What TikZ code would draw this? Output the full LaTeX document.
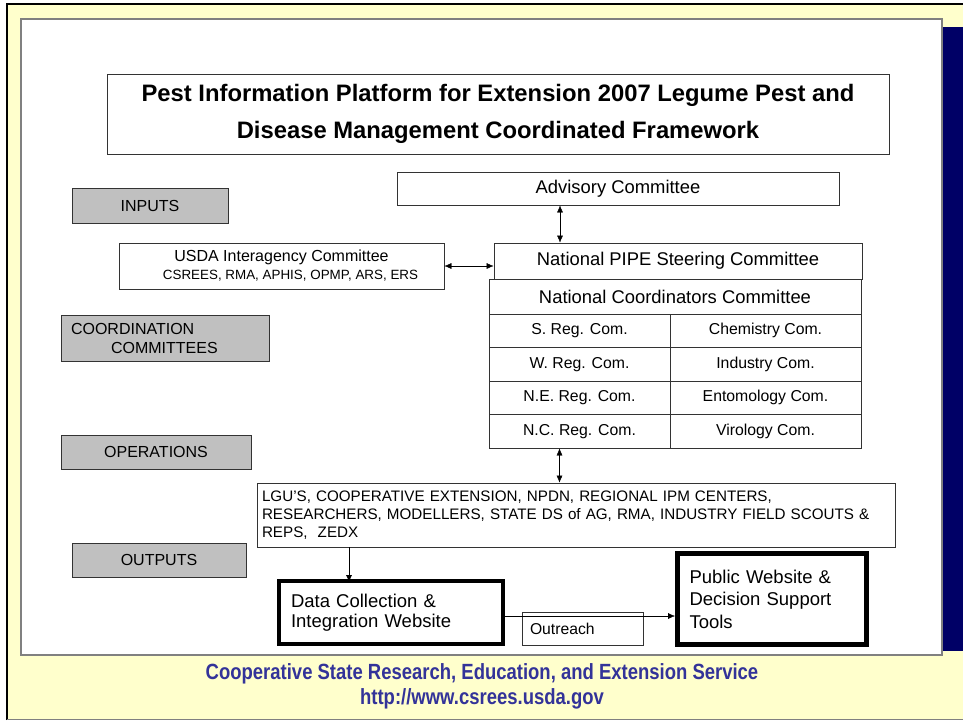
\documentclass[tikz,border=0pt]{standalone}
\usepackage{fontspec}
\setmainfont{Liberation Sans}
\newfontfamily\narrowfont[FakeStretch=0.84]{Liberation Sans}
\usetikzlibrary{calc}
\usetikzlibrary{shapes,arrows,arrows.meta,positioning}
\definecolor{slideyellow}{HTML}{FFFFCC}
\definecolor{slidenavy}{HTML}{000066}
\definecolor{footblue}{HTML}{333399}
\definecolor{tabgray}{HTML}{C0C0C0}
\newcommand{\fs}[1]{\fontsize{#1}{1.2\dimexpr#1pt\relax}\selectfont}
\tikzset{
  plainbox/.style={draw=black!80,line width=0.9pt,fill=white,inner sep=0pt,align=center},
  tagbox/.style={draw=black!80,line width=0.9pt,fill=tabgray,inner sep=0pt,align=center,font=\fs{16}},
  cellbox/.style={draw=black!80,line width=0.9pt,fill=white,inner sep=0pt,font=\fs{15.8},minimum height=33.5pt},
  heavybox/.style={draw=black,line width=4pt,fill=white,inner xsep=12pt,inner ysep=0pt,align=left},
}

\begin{document}
\begin{tikzpicture}[x=1pt,y=-1pt,>={Latex[length=7pt,width=6pt]}]
    \useasboundingbox (0,0) rectangle (963,721);
    % slide background
    \fill[slideyellow] (7,4) rectangle (963,720);
    \draw[line width=2.5pt] (7,720) -- (7,4) -- (963,4);
    \draw[gray,line width=1pt] (7,719.5) -- (963,719.5);
    \fill[slidenavy] (942,27) rectangle (963,651);
    \draw[fill=white,draw=gray,line width=1.5pt] (21,19) rectangle (942,655);

    % title
    \node[plainbox,minimum width=782pt,minimum height=80pt,
          font=\bfseries\fontsize{23.8}{37}\selectfont] (title) at (498,114)
          {Pest Information Platform for Extension 2007 Legume Pest and\\
           Disease Management Coordinated Framework};

    % left hand labels
    \node[tagbox,minimum width=156pt,minimum height=35pt] (inputs) at (150,205.5) {INPUTS};
    \node[tagbox,minimum width=208pt,minimum height=46pt,text width=188pt,align=left,
          font=\fontsize{16}{19}\selectfont] (coordcom) at (165,338)
          {COORDINATION\\\hspace*{40pt}COMMITTEES};
    \node[tagbox,minimum width=190pt,minimum height=34pt] (operations) at (156,452) {OPERATIONS};
    \node[tagbox,minimum width=174pt,minimum height=34pt] (outputs) at (159,560) {OUTPUTS};

    % committees
    \node[plainbox,minimum width=442pt,minimum height=33pt,font=\fs{18.4}] (advisory) at (618,188.5) {Advisory Committee};
    \node[plainbox,minimum width=325pt,minimum height=46pt,font=\fontsize{16}{18}\selectfont] (usda) at (281.5,266)
          {USDA Interagency Committee\\\hspace*{18pt}{\fontsize{13.4}{14}\selectfont CSREES, RMA, APHIS, OPMP, ARS, ERS}};
    \node[plainbox,minimum width=372pt,minimum height=35pt,font=\fs{18.4}] (ncc) at (675,296.5) {National Coordinators Committee};
    \node[plainbox,minimum width=368pt,minimum height=36pt,font=\fs{18.4}] (pipe) at (678,261) {National PIPE Steering Committee};

    % regional and discipline committees
    \foreach \reg/\dis [count=\i] in {S./Chemistry,W./Industry,N.E./Entomology,N.C./Virology}{
      \node[cellbox,minimum width=181pt] (reg\i) at (579.5,297.25+33.5*\i) {\reg{} Reg. Com.};
      \node[cellbox,minimum width=191pt] (dis\i) at (765.5,297.25+33.5*\i) {\dis{} Com.};
    }

    % operations
    \node[plainbox,minimum width=638pt,minimum height=64pt,text width=628pt,align=left,
          font=\fontsize{15.2}{18}\selectfont] (lgu) at (576,515)
          {LGU'S, COOPERATIVE EXTENSION, NPDN, REGIONAL IPM CENTERS,\\
           RESEARCHERS, MODELLERS, STATE DS of AG, RMA, INDUSTRY FIELD SCOUTS \&\\
           REPS,\ \ ZEDX};

    % outputs
    \node[heavybox,minimum width=224pt,minimum height=63pt,text width=200pt,
          font=\fontsize{18.5}{20.5}\selectfont] (datasite) at (391,612.5)
          {Data Collection \&\\Integration Website};
    \node[plainbox,minimum width=121pt,minimum height=33pt,text width=105pt,align=left,font=\fs{15.7}] (outreach) at (582.5,628.5) {Outreach};
    \node[heavybox,line width=5pt,minimum width=189pt,minimum height=91pt,text width=165pt,
          font=\fontsize{18.5}{22.5}\selectfont] (public) at (772,599)
          {Public Website \&\\Decision Support\\Tools};

    % connectors
    \draw[<->] ([xshift=-58pt]advisory.south) -- ([xshift=-58pt]advisory.south |- pipe.north);
    \draw[<->] (usda.east) -- (usda.east -| pipe.west);
    \draw[<->] ([xshift=-20pt]reg4.south) -- ([xshift=-20pt]reg4.south |- lgu.north);
    \draw[->] ([xshift=-42pt]datasite.north |- lgu.south) -- ([xshift=-42pt,yshift=-3pt]datasite.north);
    \draw[->] ([yshift=-3.5pt]datasite.east) -- ([yshift=-3.5pt]datasite.east -| public.west);

    % footer
    \node[text=footblue,font=\narrowfont\bfseries\fs{22}] (foot1) at (482,674)
          {Cooperative State Research, Education, and Extension Service};
    \node[text=footblue,font=\narrowfont\bfseries\fs{22},below=-3pt of foot1] (foot2)
          {http://www.csrees.usda.gov};
\end{tikzpicture}
\end{document}
